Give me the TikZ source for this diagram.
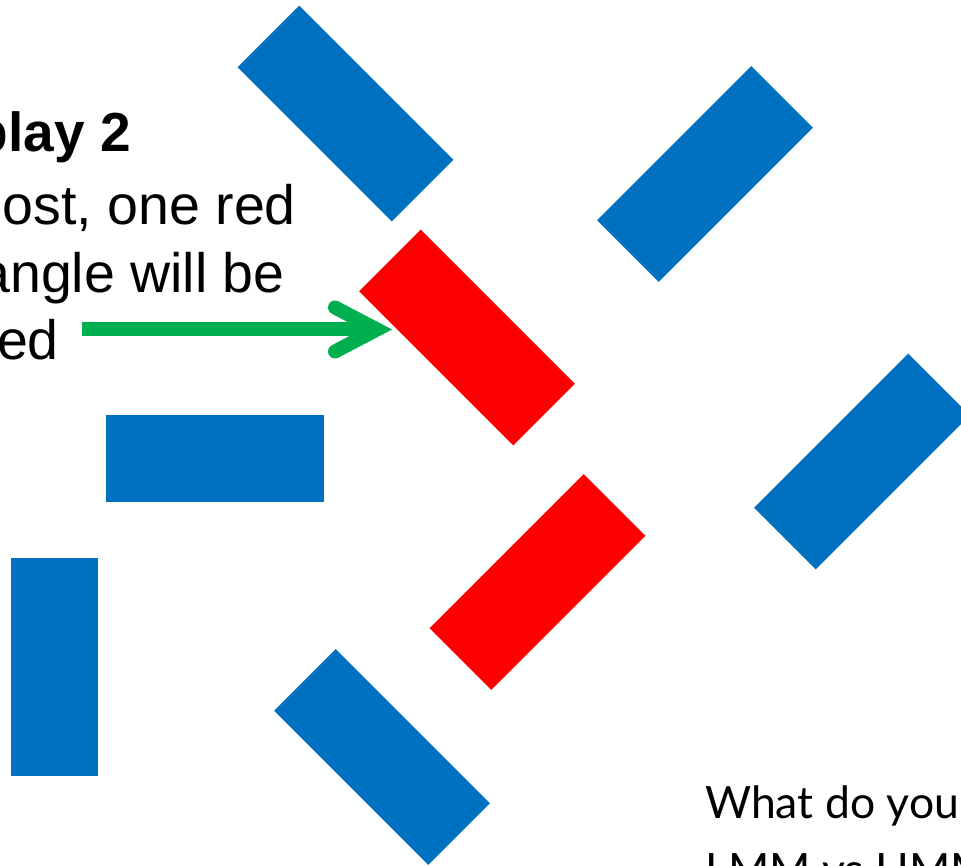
\documentclass[tikz,border=0pt]{standalone}
\usepackage{fontspec}
\setmainfont{Liberation Sans}
\newfontfamily\gillfont{Lato}
\usepackage{tikz}
\usetikzlibrary{calc}

\definecolor{barblue}{HTML}{0070C0}
\definecolor{barred}{HTML}{FF0000}
\definecolor{arrowgreen}{HTML}{00B050}

\tikzset{
  bar/.style={inner sep=0, minimum width=218pt, minimum height=87pt},
  slidetext/.style={inner sep=0, anchor=base east, font=\fontsize{55.5}{66}\selectfont},
}

\begin{document}
\begin{tikzpicture}[x=1pt,y=-1pt]

\useasboundingbox (0,0) rectangle (961,866);
\clip (0,0) rectangle (961,866);

% Blue rectangles
\foreach \x/\y/\a [count=\i] in {345.5/113.5/-45, 705/174/45, 862/461.5/45,
                                 382/757/-45, 215/458/0, 54/667/90} {
\node[bar, fill=barblue, rotate=\a] (blue\i) at (\x,\y) {};
}

% Red rectangles
\node[bar, fill=barred, rotate=-45] (red1) at (467,337.5) {};
\node[bar, fill=barred, rotate=45] (red2) at (537.5,582) {};

% Text on the left
\node[slidetext, font=\fontsize{55}{66}\selectfont\bfseries] (title) at (131,152) {play 2};
\node[slidetext] (line1) at (296,225) {ost, one red};
\node[slidetext] (line2) at (285,293) {angle will be};
\node[slidetext] (line3) at (59,360) {ed};

% Green arrow
\coordinate (arrowstart) at (82,329.5);
\coordinate (arrowtip) at (377,329.5);
\draw[arrowgreen, line width=14pt] (arrowstart) -- (arrowtip);
\draw[arrowgreen, line width=14pt, line cap=round, line join=miter]
  ($(arrowtip)+(-42,-22)$) -- (arrowtip) -- ($(arrowtip)+(-42,22)$);

% Question at the bottom
\node[inner sep=0, anchor=base west, font=\gillfont\fontsize{44.5}{54}\selectfont] (ask1) at (705,818) {What do you};
\node[inner sep=0, anchor=base west, font=\gillfont\fontsize{44.5}{54}\selectfont] (ask2) at (705,885) {LMM vs HMM};

\end{tikzpicture}
\end{document}
